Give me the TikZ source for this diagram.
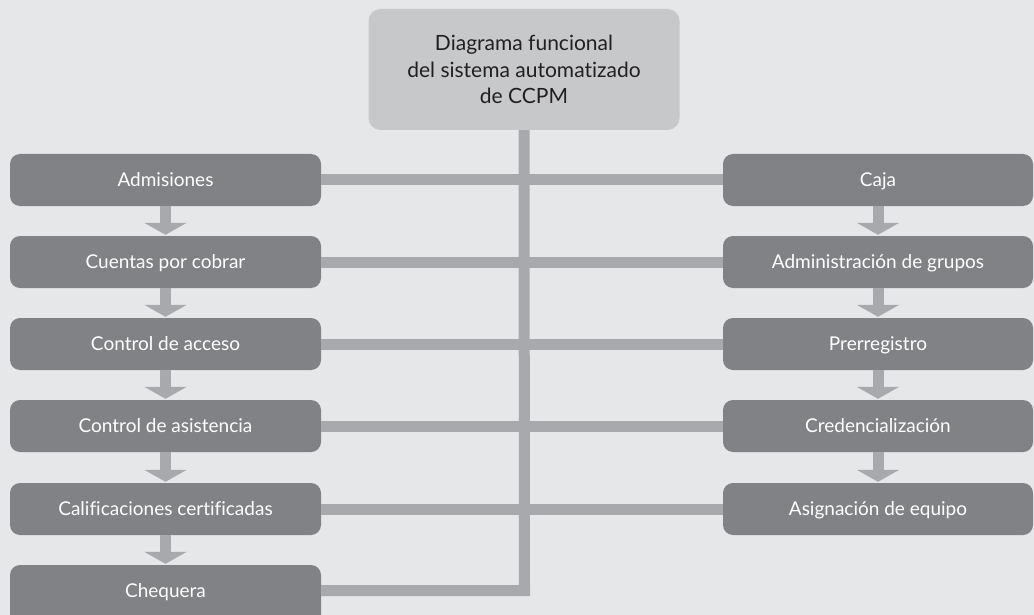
\documentclass[tikz,border=0pt]{standalone}
\usepackage{fontspec}
\setmainfont{Lato}[Ligatures=NoCommon]
\usetikzlibrary{arrows.meta}
\definecolor{bg}{HTML}{E6E7E8}
\definecolor{boxdark}{HTML}{808285}
\definecolor{boxlight}{HTML}{C7C8CA}
\definecolor{conn}{HTML}{A7A9AC}
\definecolor{titletext}{HTML}{231F20}
\begin{document}
\begin{tikzpicture}[x=1pt,y=1pt,
  box/.style={fill=boxdark, rounded corners=10pt, minimum width=311pt, minimum height=52pt, inner sep=0pt, text height=14pt, text depth=2pt, text=white, font=\fontsize{19}{22}\selectfont},
  titlebox/.style={fill=boxlight, rounded corners=12pt, minimum width=311pt, minimum height=121pt, inner sep=0pt, text=titletext, align=center, font=\fontsize{21}{26.5}\selectfont},
  link/.style={draw=conn, line width=11pt},
  flow/.style={draw=conn, line width=11pt, -{Triangle[width=42pt,length=12pt]}, shorten >=1pt}
]
\useasboundingbox (0,0) rectangle (1034,-615);
\fill[bg] (0,0) rectangle (1034,-615);

\node[titlebox] (top) at (524,-69.5) {Diagrama funcional\\del sistema automatizado\\de CCPM};

% left column
\node[box] (l1) at (165.5,-180) {Admisiones};
\node[box] (l2) at (165.5,-262) {Cuentas por cobrar};
\node[box] (l3) at (165.5,-344) {Control de acceso};
\node[box] (l4) at (165.5,-426) {Control de asistencia};
\node[box] (l5) at (165.5,-509) {Calificaciones certificadas};
\fill[boxdark, rounded corners=10pt] (10,-625) -- (10,-565) -- (321,-565) -- (321,-625) -- cycle;
\node[box, fill=none] (l6) at (165.5,-591) {Chequera};

% right column
\node[box, minimum width=310pt] (r1) at (878,-180) {Caja};
\node[box, minimum width=310pt] (r2) at (878,-262) {Administración de grupos};
\node[box, minimum width=310pt] (r3) at (878,-344) {Prerregistro};
\node[box, minimum width=310pt] (r4) at (878,-426) {Credencialización};
\node[box, minimum width=310pt] (r5) at (878,-509) {Asignación de equipo};

% horizontal links
\draw[link] (l1.east) -- (r1.west);
\draw[link] (l2.east) -- (r2.west);
\draw[link] (l3.east) -- (r3.west);
\draw[link] (l4.east) -- (r4.west);
\draw[link] (l5.east) -- (r5.west);
\coordinate (corner) at (524.5,-590.5);
\draw[link, line join=miter] (top.south) -- (corner) -- (l6.east |- corner);

% flow arrows
\draw[flow] (l1.south) -- (l2.north);
\draw[flow] (l2.south) -- (l3.north);
\draw[flow] (l3.south) -- (l4.north);
\draw[flow] (l4.south) -- (l5.north);
\draw[flow] (l5.south) -- (l6.north);
\draw[flow] (r1.south) -- (r2.north);
\draw[flow] (r2.south) -- (r3.north);
\draw[flow] (r3.south) -- (r4.north);
\draw[flow] (r4.south) -- (r5.north);
\end{tikzpicture}
\end{document}
